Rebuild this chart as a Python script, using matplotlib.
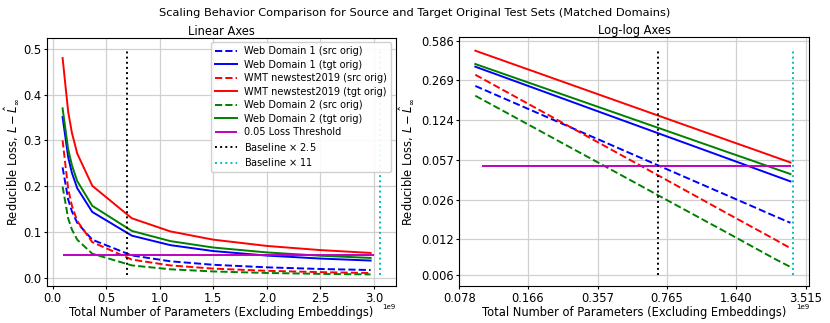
import numpy as np
import matplotlib
matplotlib.use('Agg')
import matplotlib.pyplot as plt

# model sizes (non-embedding params)
params = np.array([0.093, 0.145, 0.18, 0.23, 0.37, 0.74, 1.1, 1.5, 2.0, 2.5, 2.97]) * 1e9

web1_src = [0.241, 0.171, 0.1447, 0.1197, 0.0829, 0.0485, 0.0357, 0.0281, 0.0225, 0.0189, 0.0166]
web1_tgt = [0.351, 0.2634, 0.229, 0.1954, 0.1436, 0.0917, 0.071, 0.0581, 0.0482, 0.0417, 0.0373]
wmt_src = [0.300, 0.1943, 0.1572, 0.1236, 0.0776, 0.0394, 0.0267, 0.0197, 0.0149, 0.012, 0.0101]
wmt_tgt = [0.480, 0.3627, 0.3165, 0.2711, 0.2008, 0.1297, 0.101, 0.083, 0.0693, 0.0602, 0.054]
web2_src = [0.199, 0.1295, 0.1051, 0.0828, 0.0523, 0.0267, 0.0182, 0.0135, 0.0102, 0.0082, 0.007]
web2_tgt = [0.370, 0.2808, 0.2456, 0.2109, 0.157, 0.1021, 0.0798, 0.0658, 0.0551, 0.0479, 0.0431]

threshold = 0.05
thr_range = (0.1e9, 3.0e9)
baseline = 0.278e9
vline_span = (0.006, 0.5)

log_xticks = [0.078, 0.166, 0.357, 0.765, 1.640, 3.515]
log_yticks = [0.006, 0.012, 0.026, 0.057, 0.124, 0.269, 0.586]

series = [
    (web1_src, 'b', '--', 'Web Domain 1 (src orig)'),
    (web1_tgt, 'b', '-', 'Web Domain 1 (tgt orig)'),
    (wmt_src, 'r', '--', 'WMT newstest2019 (src orig)'),
    (wmt_tgt, 'r', '-', 'WMT newstest2019 (tgt orig)'),
    (web2_src, 'g', '--', 'Web Domain 2 (src orig)'),
    (web2_tgt, 'g', '-', 'Web Domain 2 (tgt orig)'),
]

fig = plt.figure(figsize=(8.3, 3.23), dpi=100)
ax1 = fig.add_axes([0.0563, 0.114, 0.4207, 0.7695])
ax2 = fig.add_axes([0.5534, 0.114, 0.4213, 0.7705])

for ax in (ax1, ax2):
    for vals, c, ls, lab in series:
        ax.plot(params, vals, color=c, linestyle=ls, lw=1.4, label=lab)
    ax.hlines(threshold, thr_range[0], thr_range[1], color='m', lw=1.4,
              label='0.05 Loss Threshold')
    ax.vlines(baseline * 2.5, vline_span[0], vline_span[1], color='k',
              linestyles=':', lw=1.4, label=r'Baseline $\times$ 2.5')
    ax.vlines(baseline * 11, vline_span[0], vline_span[1], color='c',
              linestyles=':', lw=1.4, label=r'Baseline $\times$ 11')
    ax.grid(True, color='#d0d0d0', lw=0.9)
    ax.set_axisbelow(True)
    ax.tick_params(labelsize=8.3, length=2, pad=2)
    ax.set_xlabel('Total Number of Parameters (Excluding Embeddings)', fontsize=8.3, labelpad=1)
    ax.set_ylabel(r'Reducible Loss, $L - \hat{L}_\infty$', fontsize=8.3)
    ax.annotate('1e9', xy=(1, 0), xycoords='axes fraction', xytext=(0, -13),
                textcoords='offset points', ha='right', va='top', fontsize=5)

ax1.yaxis.set_label_coords(-0.075, 0.5)
ax2.yaxis.set_label_coords(-0.125, 0.5)

ax1.set_title('Linear Axes', fontsize=8.3, pad=2)
ax1.xaxis.get_offset_text().set_visible(False)
ax1.legend(loc='upper right', fontsize=7, labelspacing=0.36, framealpha=0.9,
           handlelength=2.2, borderpad=0.4)

ax2.set_xscale('log')
ax2.set_yscale('log')
ax2.set_xticks([t * 1e9 for t in log_xticks])
ax2.set_xticklabels(['%.3f' % t for t in log_xticks])
ax2.set_yticks(log_yticks)
ax2.set_yticklabels(['%.3f' % t for t in log_yticks])
ax2.minorticks_off()
ax2.set_title('Log-log Axes', fontsize=8.3, pad=2)

fig.suptitle('Scaling Behavior Comparison for Source and Target Original Test Sets (Matched Domains)',
             fontsize=8.2, y=0.975)

fig.savefig('out.png', dpi=100)
